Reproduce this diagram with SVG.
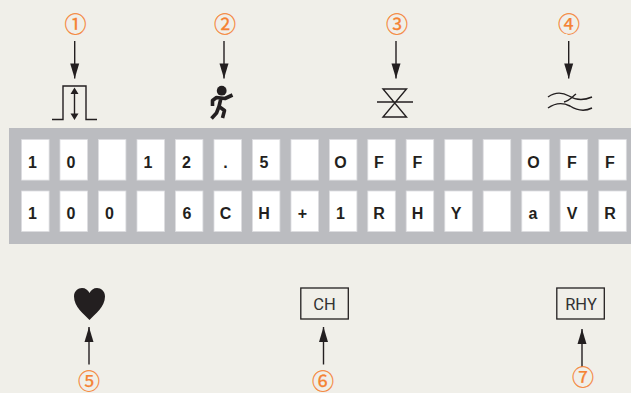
<svg xmlns="http://www.w3.org/2000/svg" width="631" height="393" viewBox="0 0 631 393">
<style>
.c{fill:#fff;stroke:#dcdde0;stroke-width:.8;width:27.5px;height:40.5px}
.t{font:bold 16px "Liberation Sans",Arial,sans-serif;fill:#231f20;text-anchor:middle}
.n{font:22px "Noto Sans CJK JP",sans-serif;fill:#f58233;stroke:#f58233;stroke-width:.25;text-anchor:middle}
.l{stroke:#231f20;stroke-width:1.4;fill:none}
.b{font:16.500px Roboto,"Liberation Sans",sans-serif;fill:#333;text-anchor:middle}
</style>
<defs>
<marker id="a" markerUnits="userSpaceOnUse" markerWidth="15" markerHeight="9" refX="14" refY="4.200" orient="auto" viewBox="0 0 14 8.400" overflow="visible"><path d="M0 0L14 4.200L0 8.400Z" fill="#231f20"/></marker>
</defs>
<rect width="631" height="393" fill="#f0efe9"/>
<g id="panel">
<rect x="9" y="128" width="622" height="116" fill="#bbbcc0"/>
<g id="row1">
<rect class="c" x="21.6" y="139.6"/><rect class="c" x="60" y="139.6"/><rect class="c" x="98.4" y="139.6"/><rect class="c" x="137" y="139.6"/><rect class="c" x="175.4" y="139.6"/><rect class="c" x="214" y="139.6"/><rect class="c" x="252.4" y="139.6"/><rect class="c" x="291" y="139.6"/><rect class="c" x="329.4" y="139.6"/><rect class="c" x="367.8" y="139.6"/><rect class="c" x="406.2" y="139.6"/><rect class="c" x="444.8" y="139.6"/><rect class="c" x="483.2" y="139.6"/><rect class="c" x="521.8" y="139.6"/><rect class="c" x="560.2" y="139.6"/><rect class="c" x="598.8" y="139.6"/>
<text class="t" x="32.5" y="168">1</text><text class="t" x="71" y="168">0</text><text class="t" x="148" y="168">1</text><text class="t" x="186.5" y="168">2</text><text class="t" x="225.5" y="168">.</text><text class="t" x="264" y="168">5</text><text class="t" x="340.5" y="168">O</text><text class="t" x="379" y="168">F</text><text class="t" x="417.5" y="168">F</text><text class="t" x="533.5" y="168">O</text><text class="t" x="572" y="168">F</text><text class="t" x="610" y="168">F</text>
</g>
<g id="row2">
<rect class="c" x="21.6" y="191"/><rect class="c" x="60" y="191"/><rect class="c" x="98.4" y="191"/><rect class="c" x="137" y="191"/><rect class="c" x="175.4" y="191"/><rect class="c" x="214" y="191"/><rect class="c" x="252.4" y="191"/><rect class="c" x="291" y="191"/><rect class="c" x="329.4" y="191"/><rect class="c" x="367.8" y="191"/><rect class="c" x="406.2" y="191"/><rect class="c" x="444.8" y="191"/><rect class="c" x="483.2" y="191"/><rect class="c" x="521.8" y="191"/><rect class="c" x="560.2" y="191"/><rect class="c" x="598.8" y="191"/>
<text class="t" x="32.5" y="219">1</text><text class="t" x="71" y="219">0</text><text class="t" x="109.5" y="219">0</text><text class="t" x="187" y="219">6</text><text class="t" x="225.5" y="219">C</text><text class="t" x="264" y="219">H</text><text class="t" x="302.5" y="219">+</text><text class="t" x="340.5" y="219">1</text><text class="t" x="379" y="219">R</text><text class="t" x="417.5" y="219">H</text><text class="t" x="456" y="219">Y</text><text class="t" x="533" y="219">a</text><text class="t" x="572" y="219">V</text><text class="t" x="610" y="219">R</text>
</g>
</g>
<g id="connectors" class="l">
<path d="M74.7 41V78.500" marker-end="url(#a)"/>
<path d="M224 41V78.500" marker-end="url(#a)"/>
<path d="M396 41V78.500" marker-end="url(#a)"/>
<path d="M568.700 41V78.500" marker-end="url(#a)"/>
<path d="M89 364.500V327" marker-end="url(#a)"/>
<path d="M323.500 364.500V327" marker-end="url(#a)"/>
<path d="M582 367V329" marker-end="url(#a)"/>
</g>
<g id="callout1"><text class="n" x="75.500" y="32">①</text></g>
<g id="callout2"><text class="n" x="225" y="32">②</text></g>
<g id="callout3"><text class="n" x="397" y="32">③</text></g>
<g id="callout4"><text class="n" x="569" y="32">④</text></g>
<g id="callout5"><text class="n" x="89" y="388.500">⑤</text></g>
<g id="callout6"><text class="n" x="323" y="388.500">⑥</text></g>
<g id="callout7"><text class="n" x="583" y="385">⑦</text></g>
<g id="pulse-icon">
<path class="l" d="M52 119.500H63V86H86V119.500H97"/>
<path class="l" d="M74.500 91V116"/>
<path d="M74.500 87.500L78.500 94H70.500ZM74.500 120L78.500 113.500H70.500Z" fill="#231f20"/>
</g>
<g id="runner-icon">
<circle cx="221.700" cy="90.700" r="4.900" fill="#231f20"/>
<path fill="none" stroke="#231f20" stroke-width="3.600" stroke-linejoin="round" d="M232.500 95L225 98.500L216.500 97.500L212.500 100.500L212.500 106M221 98L219 106.500L224.500 110.500L222.500 118M219 106.500L216.500 113L211.500 118.500"/>
</g>
<g id="valve-icon">
<path class="l" d="M383 89H406.500L383 117H406.500ZM377 102H413"/>
</g>
<g id="wave-icon">
<path class="l" stroke-width="1.800" d="M548 97C555 92 562 92 569 96C577 101 585 100 592 97"/>
<path class="l" stroke-width="1.800" d="M548 108C555 103 562 102 570 106C578 111 586 111 592 108"/>
<path class="l" stroke-width="1.800" d="M564 102C569 101 572 97 576 94"/>
</g>
<g id="heart-icon">
<path fill="#231f20" d="M89.500 320C84 314 74 307 74 296.500C74 291 78 288 82 288C85.500 288 88 290 89.500 293C91 290 93.500 288 97 288C101 288 105 291 105 296.500C105 307 95 314 89.500 320Z"/>
</g>
<g id="ch-key">
<rect x="300.800" y="288" width="47.500" height="31" fill="none" stroke="#231f20" stroke-width="1.300"/>
<text class="b" x="324.500" y="309.500">CH</text>
</g>
<g id="rhy-key">
<rect x="556.800" y="288" width="47.500" height="31" fill="none" stroke="#231f20" stroke-width="1.300"/>
<text class="b" x="581" y="309.500">RHY</text>
</g>
</svg>
